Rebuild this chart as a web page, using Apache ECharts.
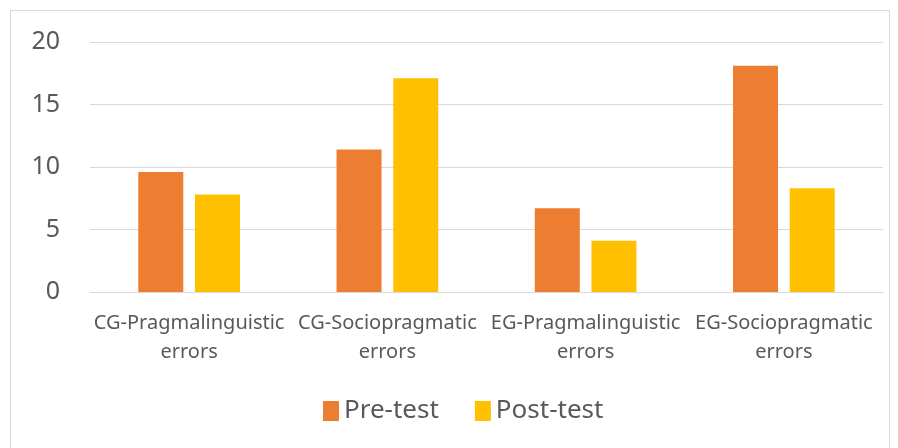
<!DOCTYPE html>
<html><head><meta charset="utf-8">
<script src="https://cdn.jsdelivr.net/npm/echarts@6/dist/echarts.min.js"></script>
<style>html,body{margin:0;padding:0;background:#fff}#c{width:898px;height:448px}</style>
</head><body><div id="c"></div>
<script>
const categories = ['CG-Pragmalinguistic\nerrors','CG-Sociopragmatic\nerrors','EG-Pragmalinguistic\nerrors','EG-Sociopragmatic\nerrors'];
const preTest = [9.6, 11.4, 6.7, 18.1];
const postTest = [7.8, 17.1, 4.1, 8.3];
const yTicks = [0, 5, 10, 15, 20];
const chart = echarts.init(document.getElementById('c'));
const font = 'Noto Sans, sans-serif';
chart.setOption({
  animation:false,
  graphic:[{type:'rect',shape:{x:10.5,y:10.5,width:879,height:460},style:{fill:'none',stroke:'#D9D9D9',lineWidth:1}}],
  grid:{left:90,right:15,top:42,bottom:156,containLabel:false},
  legend:{left:318,top:393,itemWidth:16,itemHeight:20,itemGap:36,
    textStyle:{fontSize:26,color:'#595959',fontFamily:font},icon:'rect',
    data:['Pre-test','Post-test']},
  xAxis:{type:'category',data:categories,
    axisLine:{show:true,lineStyle:{color:'#D9D9D9',width:1}},axisTick:{show:false},
    axisLabel:{fontSize:20,color:'#595959',fontFamily:font,lineHeight:29,margin:17,interval:0}},
  yAxis:{type:'value',min:yTicks[0],max:yTicks[yTicks.length-1],interval:5,
    axisLine:{show:false},axisTick:{show:false},
    splitLine:{lineStyle:{color:'#D9D9D9',width:1}},
    axisLabel:{fontSize:25,color:'#595959',fontFamily:font,margin:30}},
  series:[
    {name:'Pre-test',type:'bar',data:preTest,barWidth:45,barGap:'26%',itemStyle:{color:'#ED7D31'}},
    {name:'Post-test',type:'bar',data:postTest,barWidth:45,itemStyle:{color:'#FFC000'}}
  ]
});
</script></body></html>
